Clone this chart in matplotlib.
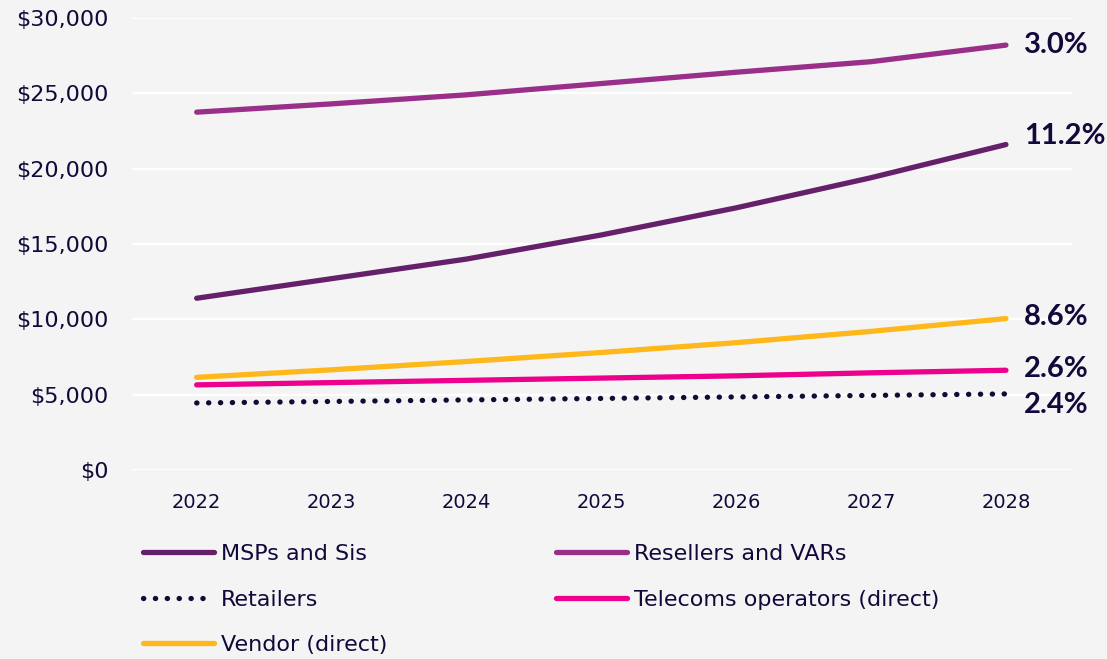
import matplotlib.pyplot as plt
from matplotlib.ticker import FuncFormatter

years = [2022, 2023, 2024, 2025, 2026, 2027, 2028]

msps = [11400, 12700, 14000, 15600, 17400, 19400, 21600]
resellers = [23750, 24300, 24900, 25650, 26400, 27100, 28200]
retailers = [4450, 4550, 4650, 4750, 4850, 4950, 5050]
telecoms = [5650, 5800, 5950, 6100, 6250, 6450, 6620]
vendor = [6150, 6650, 7200, 7800, 8450, 9200, 10050]

cagr = {"MSPs and Sis": "11.2%", "Resellers and VARs": "3.0%",
        "Retailers": "2.4%", "Telecoms operators (direct)": "2.6%",
        "Vendor (direct)": "8.6%"}

bg = "#f4f4f4"
ink = "#14083a"

fig = plt.figure(figsize=(11.07, 6.59), dpi=100, facecolor=bg)
ax = fig.add_axes([0.1192, 0.2868, 0.8492, 0.6859], facecolor=bg)

series = [
    ("MSPs and Sis", msps, "#65206a", "-"),
    ("Resellers and VARs", resellers, "#9a2f8a", "-"),
    ("Retailers", retailers, "#150a35", (0, (0.05, 2.2))),
    ("Telecoms operators (direct)", telecoms, "#ec008c", "-"),
    ("Vendor (direct)", vendor, "#ffb81c", "-"),
]

handles = {}
for name, vals, col, ls in series:
    h, = ax.plot(years, vals, color=col, lw=3.8, ls=ls,
                 solid_capstyle="round", dash_capstyle="round", label=name)
    handles[name] = h

# growth labels at the right end of each line
label_offsets = {"MSPs and Sis": 6, "Resellers and VARs": 0,
                 "Retailers": -8, "Telecoms operators (direct)": 1,
                 "Vendor (direct)": 1}
for name, vals, col, ls in series:
    ax.annotate(cagr[name], (years[-1], vals[-1]),
                xytext=(13, label_offsets[name]), textcoords="offset points",
                va="center", ha="left", fontsize=21, fontweight="bold",
                family=["Lato", "DejaVu Sans"], color=ink,
                annotation_clip=False)

ax.set_xlim(2021.52, 2028.49)
ax.set_ylim(0, 30000)
ax.set_xticks(years)
ax.set_yticks(range(0, 30001, 5000))
ax.yaxis.set_major_formatter(FuncFormatter(lambda v, p: "${:,.0f}".format(v)))
ax.tick_params(axis="y", length=0, pad=17, labelsize=16, labelcolor=ink)
ax.tick_params(axis="x", length=0, pad=16.5, labelsize=14, labelcolor=ink)
ax.grid(axis="y", color="white", lw=1.6)
ax.set_axisbelow(True)
for s in ax.spines.values():
    s.set_visible(False)

order = ["MSPs and Sis", "Retailers", "Vendor (direct)",
         "Resellers and VARs", "Telecoms operators (direct)"]
leg = fig.legend([handles[n] for n in order], order, ncol=2,
                 loc="upper left", bbox_to_anchor=(0.121, 0.188),
                 frameon=False, fontsize=16, handlelength=3.2,
                 handletextpad=0.3, columnspacing=7.6, labelspacing=1.15,
                 borderaxespad=0)
for t in leg.get_texts():
    t.set_color(ink)

fig.savefig("out.png", dpi=100, facecolor=bg)
